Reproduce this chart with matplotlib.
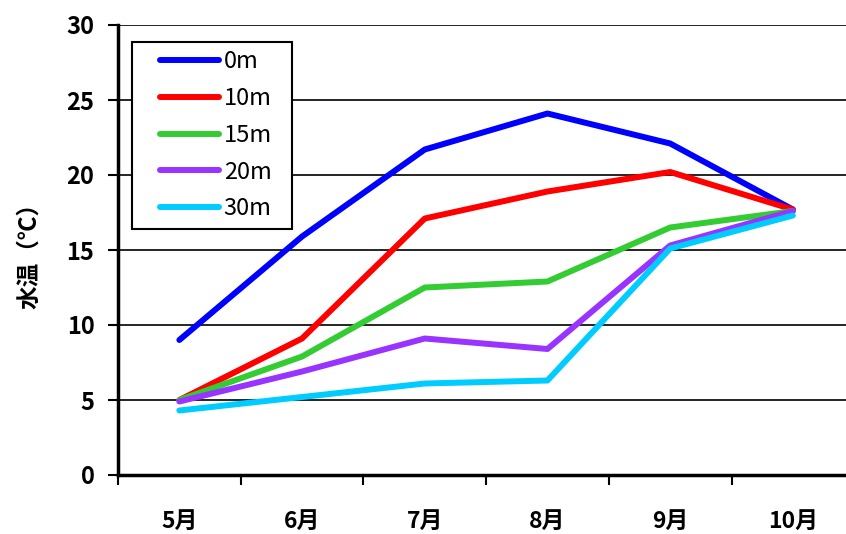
import matplotlib.pyplot as plt
from matplotlib.legend_handler import HandlerLine2D

plt.rcParams['font.family'] = ['Noto Sans CJK JP', 'DejaVu Sans']

months = ["5月", "6月", "7月", "8月", "9月", "10月"]
depths = ["0m", "10m", "15m", "20m", "30m"]
temp_0m = [9.0, 15.9, 21.7, 24.1, 22.1, 17.7]
temp_10m = [5.0, 9.1, 17.1, 18.9, 20.2, 17.7]
temp_15m = [5.0, 7.9, 12.5, 12.9, 16.5, 17.6]
temp_20m = [4.9, 6.9, 9.1, 8.4, 15.3, 17.6]
temp_30m = [4.3, 5.2, 6.1, 6.3, 15.1, 17.3]
colors = ["#0000ff", "#ff0000", "#33cc33", "#9933ff", "#00ccff"]

fig = plt.figure(figsize=(8.46, 5.34), dpi=100)
ax = fig.add_axes([118 / 846, 59 / 534, 728 / 846, 450 / 534])

x = list(range(len(months)))
series = [temp_0m, temp_10m, temp_15m, temp_20m, temp_30m]
lines = []
for vals, name, c in zip(series, depths, colors):
    ln, = ax.plot(x, vals, color=c, linewidth=4.3, label=name, solid_capstyle='round')
    lines.append(ln)

ax.set_ylim(0, 30)
ax.set_yticks(range(0, 31, 5))
ax.set_xlim(-0.5, 5.433)
ax.yaxis.grid(True, color='black', linewidth=1.2)
ax.set_axisbelow(True)

# category ticks between months, labels centred
ax.set_xticks([i - 0.5 for i in range(len(months))])
ax.set_xticklabels([])
ax.set_xticks(x, minor=True)
ax.set_xticklabels(months, minor=True, fontsize=16.5, fontweight='bold')
ax.tick_params(axis='x', which='minor', length=0, pad=25)
ax.tick_params(axis='x', which='major', length=7, width=1.5, direction='out')
ax.tick_params(axis='y', length=7, width=1.5, labelsize=17, pad=10)
for lbl in ax.get_yticklabels():
    lbl.set_fontweight('bold')

for side in ['top', 'right']:
    ax.spines[side].set_visible(False)
ax.spines['left'].set_linewidth(2.5)
ax.spines['bottom'].set_linewidth(2.5)

ax.set_ylabel("水温（℃）", fontsize=17, fontweight='bold', labelpad=18)

handler = HandlerLine2D(xpad=0.82)
leg = ax.legend(handles=lines, loc='upper left',
                bbox_to_anchor=(14 / 728, 0, 160 / 728, 433 / 450), mode='expand',
                fontsize=17, frameon=True, fancybox=False, edgecolor='black',
                framealpha=1, handlelength=3.32, labelspacing=0.58, borderpad=0.36,
                handletextpad=0.2, borderaxespad=0,
                handler_map={ln: handler for ln in lines})
leg.get_frame().set_linewidth(1.5)

fig.savefig("out.png", dpi=100)
